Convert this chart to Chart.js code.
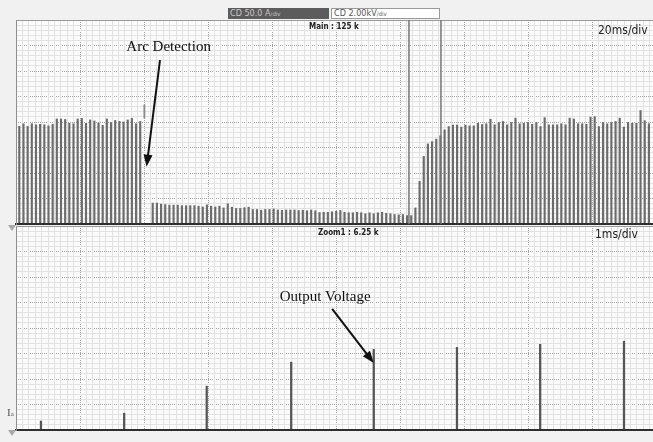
<!DOCTYPE html>
<html>
<head>
<meta charset="utf-8">
<title>Arc Detection - scope capture</title>
<script src="https://cdn.jsdelivr.net/npm/chart.js@4.4.1/dist/chart.umd.min.js"></script>
<style>
  html, body { margin: 0; padding: 0; }
  body {
    width: 653px; height: 442px; overflow: hidden; position: relative;
    background: #f1f1f1;
    font-family: 'DejaVu Sans Condensed', 'Liberation Sans Narrow', sans-serif;
  }
  canvas { position: absolute; left: 15px; }
  #cvMain { top: 19px; }
  #cvZoom { top: 225px; }
  .lbl { position: absolute; white-space: nowrap; color: #222; line-height: 1; }
  .box { position: absolute; top: 8px; height: 11px; font-size: 9px; line-height: 11px;
         white-space: nowrap; box-sizing: border-box; padding-left: 2px; }
  #boxA { left: 228px; width: 101px; background: #5c5c5c; color: #c8c8c8; }
  #boxV { left: 331px; width: 109px; background: #fff; color: #555; border: 1px solid #9a9a9a; line-height: 9px; }
  .box small { font-size: 6px; }
  .gnd { position: absolute; left: 8px; width: 0; height: 0;
         border-left: 4px solid transparent; border-right: 4px solid transparent;
         border-top: 6px solid #a8a8a8; }
</style>
</head>
<body>

<div class="box" id="boxA">CD 50.0 A<small>/div</small></div>
<div class="box" id="boxV">CD 2.00kV<small>/div</small></div>

<canvas id="cvMain" width="641" height="207"></canvas>
<canvas id="cvZoom" width="641" height="207"></canvas>

<div class="lbl" style="left:309px; top:23px; font-size:8px; font-weight:bold;">Main : 125 k</div>
<div class="lbl" style="left:598px; top:24px; font-size:12px;">20ms/div</div>
<div class="lbl" style="left:318px; top:229px; font-size:8px; font-weight:bold;">Zoom1 : 6.25 k</div>
<div class="lbl" style="left:595px; top:228px; font-size:12px;">1ms/div</div>
<div class="lbl" style="left:7px; top:407px; font-size:11px; font-family:'Liberation Serif',serif; color:#555;">I<span style="font-size:7px;">a</span></div>
<div class="gnd" style="top:225px;"></div>
<div class="gnd" style="top:430px;"></div>

<script>
'use strict';

// ================================================================
//  Scope capture: main timebase (20 ms/div) above, zoom window
//  (1 ms/div) below. Values are in screen divisions, read off
//  the capture.
// ================================================================

// ── Main trace: one value per pulse slot ────────────────────────
var PULSE_PERIOD_MS = 1.303;   // pulse spacing seen on both traces
var FIRST_PULSE_MS  = 1.03;

// slots 0-29: normal pulses before the arc
var pulsesBefore = [3.83, 3.93, 3.83, 3.93, 3.89, 3.91, 3.89, 3.85, 3.91, 4.12,
                    4.12, 4.10, 3.95, 3.93, 4.12, 4.14, 3.95, 4.08, 4.04, 3.96,
                    3.87, 4.12, 3.98, 4.06, 4.02, 4.00, 4.08, 4.14, 3.93, 4.02];
// slot 30 only shows a short floating segment, slot 31 is empty
var GLITCH_SLOT = 30;
var glitchSpan  = [4.16, 4.67];
// slots 32-94: arc detected, output folded back
var pulsesArc = [0.82, 0.82, 0.78, 0.76, 0.74, 0.74, 0.74, 0.72, 0.72, 0.72,
                 0.72, 0.70, 0.67, 0.75, 0.70, 0.67, 0.70, 0.63, 0.79, 0.66,
                 0.61, 0.61, 0.64, 0.66, 0.57, 0.57, 0.54, 0.57, 0.57, 0.59,
                 0.55, 0.54, 0.55, 0.55, 0.55, 0.53, 0.54, 0.52, 0.55, 0.52,
                 0.45, 0.46, 0.46, 0.48, 0.50, 0.53, 0.46, 0.44, 0.44, 0.46,
                 0.44, 0.40, 0.44, 0.40, 0.44, 0.46, 0.42, 0.40, 0.37, 0.36,
                 0.37, 0.33, 0.33];
// slots 95-151: recovery ramp then normal pulses
var pulsesAfter = [0.63, 1.67, 2.65, 3.14, 3.23, 3.33, 3.46, 3.69, 3.82, 3.88,
                   3.88, 3.80, 3.88, 3.85, 3.85, 3.95, 3.90, 3.93, 4.11, 3.89,
                   3.98, 4.02, 3.89, 3.98, 4.15, 3.93, 3.95, 3.98, 3.91, 3.98,
                   3.82, 4.17, 3.89, 3.89, 3.89, 3.93, 3.89, 4.15, 4.12, 3.93,
                   3.93, 3.91, 4.19, 4.21, 3.82, 3.98, 3.93, 3.98, 4.02, 4.15,
                   3.80, 3.98, 3.95, 3.95, 4.45, 4.05, 3.93];

// zoom window position on the main trace (ms)
var zoomWindow = [122.8, 132.8];

// ── Zoom trace (Output Voltage) ─────────────────────────────────
var zoomTimes  = [0.39, 1.69, 2.98, 4.30, 5.59, 6.89, 8.19, 9.50];   // ms
var zoomValues = [0.35, 0.66, 1.72, 2.66, 3.16, 3.24, 3.36, 3.48];   // div

// ── Annotations (data coordinates) ──────────────────────────────
var mainNotes = [{ text: 'Arc Detection',  at: [47.7, 6.94], from: [45.0, 6.43], to: [40.8, 2.25] }];
var zoomNotes = [{ text: 'Output Voltage', at: [4.83, 5.22], from: [4.94, 4.75], to: [5.59, 2.63] }];

// ── Styles ──────────────────────────────────────────────────────
var GRID_MINOR = '#e2e2e2';
var GRID_MAJOR = '#a4a4a4';
var TRACE      = '#6c6c6c';

// ── Helpers ─────────────────────────────────────────────────────
function slotTime(i) { return FIRST_PULSE_MS + i * PULSE_PERIOD_MS; }

function isMajor(value, every) {
    var r = value / every;
    return Math.abs(r - Math.round(r)) < 1e-6;
}

// fine grid: solid, skipped where a major division falls
function minorAxis(max, step, major, border) {
    return {
        type: 'linear', min: 0, max: max, offset: false,
        ticks: { display: false, stepSize: step },
        grid: {
            drawTicks: false, offset: false, lineWidth: 1,
            color: function (c) { return c.tick && isMajor(c.tick.value, major) ? 'rgba(0,0,0,0)' : GRID_MINOR; }
        },
        border: border
    };
}

// division grid: dotted, drawn by a second (label-less) axis
function majorAxis(max, major, position) {
    return {
        type: 'linear', position: position, min: 0, max: max, offset: false,
        ticks: { display: false, stepSize: major },
        grid: { drawTicks: false, offset: false, lineWidth: 1, color: GRID_MAJOR },
        border: { display: false, dash: [1, 1] }
    };
}

function drawArrow(ctx, x1, y1, x2, y2) {
    var a = Math.atan2(y2 - y1, x2 - x1), len = 12, w = 4.5;
    ctx.beginPath();
    ctx.moveTo(x1, y1);
    ctx.lineTo(x2 - Math.cos(a) * len * 0.7, y2 - Math.sin(a) * len * 0.7);
    ctx.stroke();
    ctx.beginPath();
    ctx.moveTo(x2, y2);
    ctx.lineTo(x2 - len * Math.cos(a) + w * Math.sin(a), y2 - len * Math.sin(a) - w * Math.cos(a));
    ctx.lineTo(x2 - len * Math.cos(a) - w * Math.sin(a), y2 - len * Math.sin(a) + w * Math.cos(a));
    ctx.closePath();
    ctx.fill();
}

// background, frame, zoom-window markers and the text callouts
var scopeOverlay = {
    id: 'scopeOverlay',
    beforeDraw: function (chart) {
        var a = chart.chartArea, ctx = chart.ctx;
        ctx.save();
        ctx.fillStyle = '#fbfbfb';
        ctx.fillRect(a.left, a.top, a.right - a.left, a.bottom - a.top);
        ctx.restore();
    },
    afterDraw: function (chart, args, opts) {
        var a = chart.chartArea, ctx = chart.ctx;
        var sx = chart.scales.x, sy = chart.scales.y;
        ctx.save();
        ctx.strokeStyle = '#9a9a9a';
        ctx.lineWidth = 1;
        ctx.beginPath();
        ctx.moveTo(a.left, a.top + 0.5); ctx.lineTo(a.right, a.top + 0.5);
        ctx.stroke();

        (opts.windowLines || []).forEach(function (t) {
            var px = sx.getPixelForValue(t);
            ctx.strokeStyle = '#767676';
            ctx.lineWidth = 1.5;
            ctx.beginPath();
            ctx.moveTo(px, a.top); ctx.lineTo(px, a.bottom);
            ctx.stroke();
        });

        (opts.notes || []).forEach(function (n) {
            ctx.fillStyle = '#111';
            ctx.strokeStyle = '#111';
            ctx.lineWidth = 2;
            ctx.font = '15px "Liberation Serif", "Times New Roman", serif';
            ctx.textAlign = 'center';
            ctx.textBaseline = 'middle';
            ctx.fillText(n.text, sx.getPixelForValue(n.at[0]), sy.getPixelForValue(n.at[1]));
            drawArrow(ctx,
                sx.getPixelForValue(n.from[0]), sy.getPixelForValue(n.from[1]),
                sx.getPixelForValue(n.to[0]),   sy.getPixelForValue(n.to[1]));
        });
        ctx.restore();
    }
};

function scopeChart(canvasId, xMax, xStep, xMajor, datasets, overlay) {
    return new Chart(document.getElementById(canvasId), {
        type: 'bar',
        data: { datasets: datasets },
        plugins: [scopeOverlay],
        options: {
            responsive: false,
            animation: false,
            events: [],
            layout: { padding: { left: 1, top: 1, right: 0, bottom: 2 } },
            datasets: { bar: { grouped: false, borderWidth: 0 } },
            plugins: {
                legend: { display: false },
                tooltip: { enabled: false },
                scopeOverlay: overlay
            },
            scales: {
                xDiv: majorAxis(xMax, xMajor, 'bottom'),
                yDiv: majorAxis(8, 1, 'left'),
                x: minorAxis(xMax, xStep, xMajor, { display: true, color: '#2e2e2e', width: 2, z: 1 }),
                y: minorAxis(8, 0.2, 1, { display: true, color: '#8e8e8e', width: 1, z: 1 })
            }
        }
    });
}

// ── Main trace ──────────────────────────────────────────────────
var mainSlots = pulsesBefore.concat([null, null], pulsesArc, pulsesAfter);
var mainPoints = [];
mainSlots.forEach(function (v, i) {
    if (v != null) mainPoints.push({ x: slotTime(i), y: v });
});

scopeChart('cvMain', 200, 2, 20, [
    { data: mainPoints, backgroundColor: TRACE, barThickness: 1.5 },
    { data: [{ x: slotTime(GLITCH_SLOT), y: glitchSpan }], backgroundColor: '#8c8c8c', barThickness: 1.2 }
], { windowLines: zoomWindow, notes: mainNotes });

// ── Zoom trace ──────────────────────────────────────────────────
scopeChart('cvZoom', 10, 0.1, 1, [
    {
        data: zoomTimes.map(function (t, i) { return { x: t, y: zoomValues[i] }; }),
        backgroundColor: '#555', barThickness: 1.6
    }
], { notes: zoomNotes });
</script>
</body>
</html>
